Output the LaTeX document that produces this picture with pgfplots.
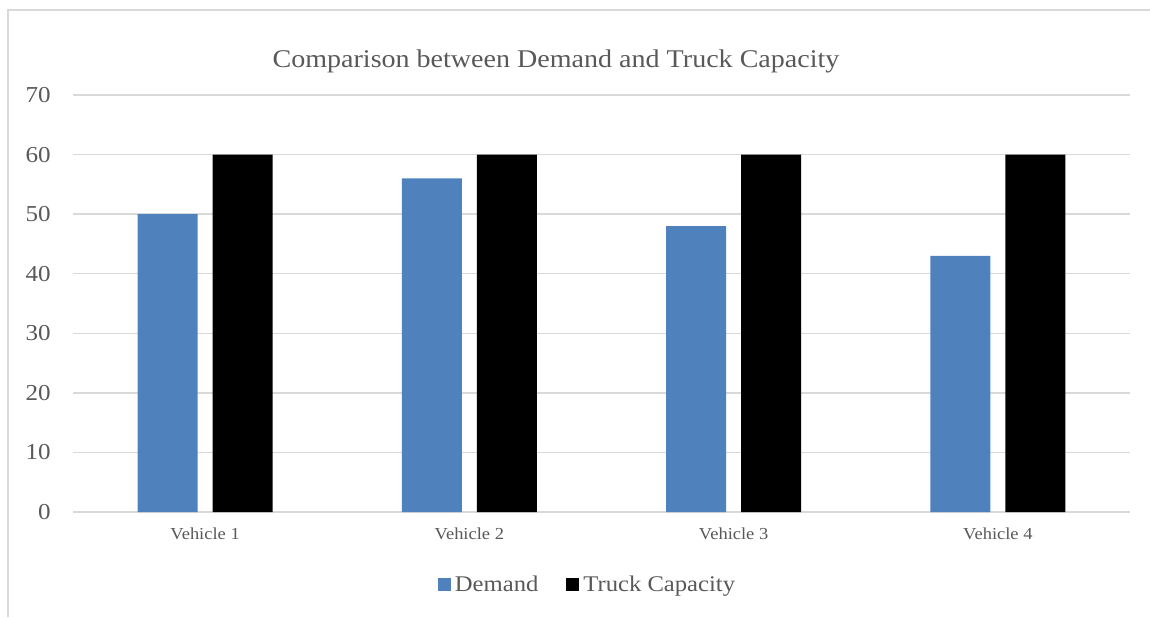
\documentclass[border=0pt]{standalone}
\usepackage{fontspec}
\setmainfont{Liberation Serif}[FakeStretch=1.1]
\usepackage{pgfplots}
\pgfplotsset{compat=1.18}
\definecolor{demand}{HTML}{4F81BD}
\definecolor{txt}{HTML}{595959}
\definecolor{gridc}{HTML}{D9D9D9}
\begin{document}
\begin{tikzpicture}
\path[use as bounding box] (0,0) rectangle (575pt,308.5pt);
\draw[gridc, line width=0.75pt] (4pt,0) -- (4pt,303.5pt) -- (575pt,303.5pt);
\begin{axis}[
 at={(36.5pt,52.5pt)}, anchor=south west,
 scale only axis, width=528.5pt, height=208.5pt,
 ybar=7.5pt, bar width=30pt,
 xmin=-0.5, xmax=3.5, ymin=0, ymax=70,
 ytick={0,10,...,70},
 xtick=data, xticklabels={Vehicle 1,Vehicle 2,Vehicle 3,Vehicle 4},
 major tick length=0pt,
 axis line style={draw=none},
 ymajorgrids, grid style={gridc, line width=0.75pt},
 /pgf/number format/assume math mode=true,
 yticklabel style={font=\fontsize{11.4}{13}\selectfont, text=txt, anchor=east, inner sep=0pt, xshift=-11pt},
 xticklabel style={font=\fontsize{8.4}{10}\selectfont, text=txt, anchor=north, inner sep=0pt, yshift=-7.5pt},
 legend style={at={(0.4877,-0.175)}, anchor=center, draw=none, legend columns=2, font=\fontsize{11.2}{13}\selectfont, text=txt, /tikz/every even column/.append style={column sep=12pt}},
 legend image code/.code={\fill[#1] (0pt,-3.25pt) rectangle (6.5pt,3.25pt);},
]
\addplot[fill=demand, draw=none] coordinates {(0,50) (1,56) (2,48) (3,43)};
\addplot[fill=black, draw=none] coordinates {(0,60) (1,60) (2,60) (3,60)};
\legend{Demand, Truck Capacity}
\end{axis}
\node[anchor=base, text=txt, font=\fontsize{12.75}{15}\selectfont] at (278pt,274.5pt) {Comparison between Demand and Truck Capacity};
\end{tikzpicture}
\end{document}
